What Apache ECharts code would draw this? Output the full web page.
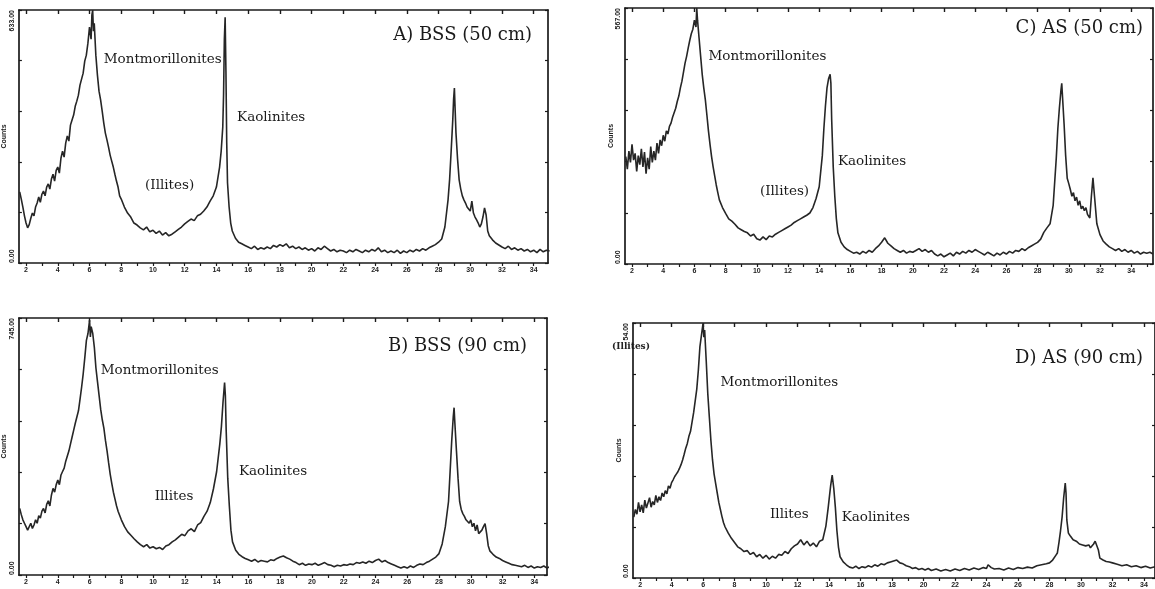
<!DOCTYPE html>
<html><head><meta charset="utf-8">
<script src="https://cdn.jsdelivr.net/npm/echarts@6/dist/echarts.min.js"></script>
<style>html,body{margin:0;padding:0;background:#fff}#c{width:1155px;height:589px}</style>
</head><body><div id="c"></div>
<script>
// ---------- data ----------
const xTickLabels = [2,4,6,8,10,12,14,16,18,20,22,24,26,28,30,32,34];
const xMinorTicks = [2,3,4,5,6,7,8,9,10,11,12,13,14,15,16,17,18,19,20,21,22,23,24,25,26,27,28,29,30,31,32,33,34,35];
const panelTitles = ['A) BSS (50 cm)', 'B) BSS (90 cm)', 'C) AS (50 cm)', 'D) AS (90 cm)'];
const yMax = [633, 745, 567, 54];

// A) BSS 50 cm  [2theta, counts]
const bss50 = [[1.6,178],[1.7,160],[1.8,140],[1.9,118],[2.0,100],[2.1,88],[2.2,96],[2.3,112],[2.4,125],[2.5,118],[2.6,140],[2.7,150],[2.8,165],[2.9,152],[3.0,172],[3.1,180],[3.2,168],[3.3,190],[3.4,198],[3.5,185],[3.6,210],[3.7,222],[3.8,205],[3.9,232],[4.0,240],[4.1,225],[4.2,262],[4.3,280],[4.4,265],[4.5,300],[4.6,318],[4.7,305],[4.8,345],[4.9,358],[5.0,370],[5.1,392],[5.2,405],[5.3,420],[5.4,445],[5.5,460],[5.6,475],[5.7,505],[5.8,520],[5.9,550],[6.0,590],[6.1,560],[6.15,620],[6.2,633],[6.25,580],[6.3,600],[6.4,520],[6.5,470],[6.6,430],[6.7,408],[6.8,380],[6.9,350],[7.0,325],[7.1,308],[7.2,290],[7.3,270],[7.4,255],[7.5,240],[7.6,222],[7.7,205],[7.8,190],[7.9,168],[8.0,160],[8.2,140],[8.4,125],[8.6,115],[8.8,100],[9.0,95],[9.2,88],[9.4,83],[9.6,90],[9.8,78],[10.0,82],[10.2,74],[10.4,80],[10.6,70],[10.8,76],[11.0,68],[11.2,72],[11.4,78],[11.6,84],[11.8,90],[12.0,98],[12.2,104],[12.4,110],[12.6,106],[12.8,118],[13.0,122],[13.2,130],[13.4,140],[13.6,155],[13.8,168],[14.0,190],[14.2,240],[14.3,280],[14.4,340],[14.45,420],[14.5,560],[14.55,615],[14.6,480],[14.65,300],[14.7,200],[14.8,140],[14.9,100],[15.0,80],[15.2,62],[15.4,52],[15.6,48],[15.8,44],[16.0,40],[16.2,36],[16.4,42],[16.6,34],[16.8,38],[17.0,35],[17.2,40],[17.4,36],[17.6,44],[17.8,40],[18.0,46],[18.2,42],[18.4,48],[18.6,38],[18.8,42],[19.0,36],[19.2,40],[19.4,34],[19.6,38],[19.8,32],[20.0,36],[20.2,30],[20.4,38],[20.6,34],[20.8,42],[21.0,36],[21.2,30],[21.4,34],[21.6,28],[21.8,32],[22.0,30],[22.2,26],[22.4,32],[22.6,28],[22.8,34],[23.0,30],[23.2,26],[23.4,32],[23.6,28],[23.8,34],[24.0,30],[24.2,38],[24.4,28],[24.6,32],[24.8,26],[25.0,30],[25.2,26],[25.4,32],[25.6,24],[25.8,30],[26.0,26],[26.2,32],[26.4,28],[26.6,34],[26.8,30],[27.0,36],[27.2,32],[27.4,38],[27.6,42],[27.8,46],[28.0,52],[28.2,60],[28.4,90],[28.6,158],[28.7,210],[28.8,283],[28.9,360],[28.95,410],[29.0,438],[29.05,380],[29.1,325],[29.2,260],[29.3,208],[29.4,185],[29.5,168],[29.6,158],[29.7,150],[29.8,140],[29.9,145],[30.0,130],[30.1,155],[30.2,125],[30.3,115],[30.4,108],[30.5,100],[30.6,90],[30.7,98],[30.8,115],[30.9,138],[31.0,120],[31.1,80],[31.2,68],[31.4,58],[31.6,50],[31.8,45],[32.0,40],[32.2,36],[32.4,42],[32.6,34],[32.8,38],[33.0,32],[33.2,36],[33.4,30],[33.6,34],[33.8,28],[34.0,32],[34.2,26],[34.4,34],[34.6,28],[34.8,32],[35.0,30]];

// B) BSS 90 cm
const bss90 = [[1.6,193],[1.7,175],[1.8,160],[1.9,150],[2.0,140],[2.1,130],[2.2,126],[2.3,150],[2.4,135],[2.5,145],[2.6,160],[2.7,150],[2.8,172],[2.9,165],[3.0,185],[3.1,193],[3.2,180],[3.3,205],[3.4,215],[3.5,200],[3.6,232],[3.7,251],[3.8,240],[3.9,262],[4.0,275],[4.1,262],[4.2,290],[4.3,300],[4.4,310],[4.5,330],[4.6,345],[4.7,360],[4.8,380],[4.9,400],[5.0,420],[5.1,440],[5.2,458],[5.3,476],[5.4,510],[5.5,545],[5.6,584],[5.7,630],[5.8,680],[5.9,700],[6.0,739],[6.05,690],[6.1,720],[6.2,700],[6.3,660],[6.4,600],[6.5,560],[6.6,520],[6.7,480],[6.8,450],[6.9,426],[7.0,390],[7.1,360],[7.2,325],[7.3,292],[7.4,265],[7.5,240],[7.6,220],[7.7,200],[7.8,184],[8.0,160],[8.2,140],[8.4,125],[8.6,115],[8.8,105],[9.0,96],[9.2,88],[9.4,82],[9.6,88],[9.8,78],[10.0,82],[10.2,76],[10.4,80],[10.6,74],[10.8,84],[11.0,88],[11.2,96],[11.4,102],[11.6,110],[11.8,118],[12.0,114],[12.2,128],[12.4,134],[12.6,126],[12.8,145],[13.0,152],[13.2,170],[13.4,185],[13.6,210],[13.8,250],[14.0,300],[14.2,380],[14.3,430],[14.4,500],[14.5,558],[14.55,520],[14.6,420],[14.7,280],[14.8,200],[14.9,130],[15.0,96],[15.2,72],[15.4,60],[15.6,53],[15.8,48],[16.0,44],[16.2,40],[16.4,45],[16.6,38],[16.8,42],[17.0,40],[17.2,38],[17.4,44],[17.6,42],[17.8,48],[18.0,52],[18.2,55],[18.4,50],[18.6,46],[18.8,40],[19.0,36],[19.2,30],[19.4,34],[19.6,28],[19.8,32],[20.0,30],[20.2,34],[20.4,28],[20.6,32],[20.8,36],[21.0,30],[21.2,28],[21.4,24],[21.6,28],[21.8,26],[22.0,30],[22.2,28],[22.4,32],[22.6,30],[22.8,36],[23.0,34],[23.2,38],[23.4,34],[23.6,40],[23.8,36],[24.0,42],[24.2,46],[24.4,38],[24.6,42],[24.8,36],[25.0,32],[25.2,28],[25.4,24],[25.6,20],[25.8,24],[26.0,20],[26.2,26],[26.4,22],[26.6,28],[26.8,32],[27.0,30],[27.2,36],[27.4,40],[27.6,46],[27.8,52],[28.0,62],[28.2,90],[28.4,140],[28.6,213],[28.7,300],[28.8,388],[28.9,460],[28.95,485],[29.0,440],[29.1,359],[29.2,280],[29.3,213],[29.4,190],[29.5,178],[29.6,170],[29.7,160],[29.8,164],[29.9,150],[30.0,160],[30.1,140],[30.2,150],[30.3,128],[30.4,145],[30.5,120],[30.6,117],[30.7,130],[30.8,140],[30.9,149],[31.0,120],[31.1,85],[31.2,70],[31.4,60],[31.6,52],[31.8,48],[32.0,42],[32.2,38],[32.4,34],[32.6,30],[32.8,28],[33.0,26],[33.2,24],[33.4,28],[33.6,22],[33.8,26],[34.0,20],[34.2,24],[34.4,22],[34.6,26],[34.8,20],[35.0,24]];

// C) AS 50 cm
const as50 = [[1.6,238],[1.7,210],[1.8,250],[1.9,225],[2.0,265],[2.1,230],[2.2,245],[2.3,205],[2.4,240],[2.5,220],[2.6,255],[2.7,215],[2.8,248],[2.9,200],[3.0,235],[3.1,210],[3.2,260],[3.3,225],[3.4,250],[3.5,230],[3.6,268],[3.7,245],[3.8,275],[3.9,262],[4.0,285],[4.1,272],[4.2,295],[4.3,288],[4.4,305],[4.5,312],[4.6,325],[4.7,335],[4.8,345],[4.9,360],[5.0,372],[5.1,390],[5.2,405],[5.3,425],[5.4,445],[5.5,460],[5.6,478],[5.7,495],[5.8,510],[5.9,520],[6.0,540],[6.1,525],[6.15,567],[6.2,540],[6.3,500],[6.4,460],[6.5,420],[6.6,390],[6.7,364],[6.8,330],[6.9,295],[7.0,265],[7.1,238],[7.2,215],[7.3,195],[7.4,175],[7.5,158],[7.6,142],[7.8,125],[8.0,112],[8.2,100],[8.4,95],[8.6,88],[8.8,80],[9.0,76],[9.2,72],[9.4,69],[9.6,62],[9.8,66],[10.0,56],[10.2,53],[10.4,60],[10.6,54],[10.8,62],[11.0,60],[11.2,66],[11.4,70],[11.6,74],[11.8,78],[12.0,82],[12.2,86],[12.4,92],[12.6,96],[12.8,100],[13.0,104],[13.2,108],[13.4,113],[13.6,125],[13.8,145],[14.0,171],[14.2,240],[14.3,300],[14.4,350],[14.5,390],[14.6,410],[14.7,420],[14.75,400],[14.8,320],[14.9,215],[15.0,150],[15.1,100],[15.2,69],[15.4,48],[15.6,38],[15.8,32],[16.0,28],[16.2,24],[16.4,26],[16.6,22],[16.8,28],[17.0,24],[17.2,30],[17.4,26],[17.6,34],[17.8,40],[18.0,48],[18.2,58],[18.4,46],[18.6,40],[18.8,34],[19.0,30],[19.2,26],[19.4,30],[19.6,24],[19.8,28],[20.0,26],[20.2,30],[20.4,34],[20.6,28],[20.8,32],[21.0,26],[21.2,30],[21.4,22],[21.6,18],[21.8,22],[22.0,16],[22.2,20],[22.4,24],[22.6,18],[22.8,26],[23.0,22],[23.2,28],[23.4,24],[23.6,30],[23.8,26],[24.0,32],[24.2,28],[24.4,24],[24.6,20],[24.8,26],[25.0,22],[25.2,18],[25.4,24],[25.6,20],[25.8,26],[26.0,22],[26.2,28],[26.4,24],[26.6,30],[26.8,28],[27.0,34],[27.2,30],[27.4,36],[27.6,40],[27.8,44],[28.0,48],[28.2,55],[28.4,70],[28.6,80],[28.8,89],[29.0,130],[29.2,235],[29.3,300],[29.4,346],[29.5,385],[29.55,400],[29.6,370],[29.7,310],[29.8,240],[29.9,190],[30.0,178],[30.1,165],[30.2,150],[30.3,158],[30.4,140],[30.5,148],[30.6,130],[30.7,140],[30.8,122],[30.9,128],[31.0,118],[31.1,125],[31.2,110],[31.3,106],[31.35,102],[31.45,150],[31.55,191],[31.65,150],[31.8,89],[32.0,65],[32.2,51],[32.4,44],[32.6,38],[32.8,34],[33.0,30],[33.2,34],[33.4,28],[33.6,32],[33.8,26],[34.0,30],[34.2,24],[34.4,28],[34.6,22],[34.8,26],[35.0,24],[35.2,26],[35.4,22]];

// D) AS 90 cm
const as90 = [[1.6,12.9],[1.7,14.5],[1.8,13.5],[1.9,16],[2.0,14],[2.1,15.5],[2.2,13.8],[2.3,16.5],[2.4,14.8],[2.5,15.2],[2.6,17],[2.7,15],[2.8,16.2],[2.9,15.5],[3.0,17.5],[3.1,16],[3.2,17.2],[3.3,16.4],[3.4,18],[3.5,17.2],[3.6,18.5],[3.7,17.8],[3.8,19.5],[3.9,19],[4.0,20.2],[4.1,20.8],[4.2,21.5],[4.3,22],[4.4,22.5],[4.5,23.2],[4.6,24],[4.7,25],[4.8,26.2],[4.9,27.5],[5.0,28.5],[5.1,30],[5.2,31],[5.3,33],[5.4,35],[5.5,37.5],[5.6,40],[5.7,44],[5.8,49],[5.9,51.5],[6.0,54],[6.05,51],[6.1,52.5],[6.2,46],[6.3,39],[6.4,34],[6.5,29],[6.6,25],[6.7,22],[6.8,20],[6.9,18],[7.0,16],[7.1,14.5],[7.2,13],[7.3,11.7],[7.4,10.8],[7.6,9.5],[7.8,8.4],[8.0,7.5],[8.2,6.6],[8.4,6.2],[8.6,5.6],[8.8,5.8],[9.0,5.0],[9.2,5.4],[9.4,4.5],[9.6,5.0],[9.8,4.2],[10.0,4.8],[10.2,4.0],[10.4,4.6],[10.6,4.2],[10.8,5.0],[11.0,4.8],[11.2,5.6],[11.4,5.2],[11.6,6.2],[11.8,6.8],[12.0,7.2],[12.2,8.1],[12.4,7.0],[12.6,7.8],[12.8,6.8],[13.0,7.4],[13.2,6.6],[13.4,7.8],[13.6,8.1],[13.8,11],[13.95,15],[14.1,19.5],[14.2,21.8],[14.3,19],[14.4,15],[14.5,10],[14.6,6.5],[14.7,4.5],[14.9,3.4],[15.1,2.8],[15.3,2.3],[15.5,2.1],[15.7,2.5],[15.9,2.0],[16.1,2.4],[16.3,2.2],[16.5,2.6],[16.7,2.3],[16.9,2.8],[17.1,2.5],[17.3,3.0],[17.5,2.8],[17.7,3.2],[17.9,3.4],[18.1,3.6],[18.3,3.8],[18.5,3.2],[18.7,3.0],[18.9,2.6],[19.1,2.4],[19.3,2.0],[19.5,2.2],[19.7,1.8],[19.9,2.0],[20.1,1.7],[20.3,2.0],[20.5,1.6],[20.8,1.9],[21.1,1.5],[21.4,1.8],[21.7,1.5],[22.0,1.9],[22.3,1.6],[22.6,2.0],[22.9,1.7],[23.2,2.1],[23.5,1.8],[23.8,2.2],[24.0,2.0],[24.1,2.8],[24.2,3.0],[24.3,2.2],[24.5,1.9],[24.8,2.0],[25.1,1.7],[25.4,2.1],[25.7,1.8],[26.0,2.2],[26.3,2.0],[26.6,2.3],[26.9,2.1],[27.2,2.6],[27.5,2.8],[27.8,3.0],[28.0,3.2],[28.2,3.8],[28.4,4.8],[28.5,5.3],[28.6,7.5],[28.7,10],[28.8,12.9],[28.9,17],[29.0,20.1],[29.05,18],[29.1,12.3],[29.2,9.5],[29.3,9.0],[29.4,8.6],[29.5,8.1],[29.6,8.4],[29.7,7.8],[29.8,8.0],[29.9,7.2],[30.0,7.6],[30.1,7.0],[30.2,7.3],[30.3,6.8],[30.4,6.6],[30.5,7.0],[30.6,6.4],[30.7,6.8],[30.8,7.2],[30.9,7.8],[31.0,8.1],[31.1,6.0],[31.2,4.2],[31.4,3.8],[31.6,3.5],[31.8,3.4],[32.0,3.2],[32.3,2.9],[32.6,2.6],[32.9,2.8],[33.2,2.4],[33.5,2.6],[33.8,2.2],[34.1,2.5],[34.4,2.1],[34.7,2.4],[35.0,2.3]];

// annotations: [text, 2theta, counts]
const annotA = [['Montmorillonites', 6.9, 508], ['Kaolinites', 15.3, 365], ['(Illites)', 9.5, 195]];
const annotB = [['Montmorillonites', 6.7, 593], ['Kaolinites', 15.4, 301], ['Illites', 10.1, 228]];
const annotC = [['Montmorillonites', 6.9, 460], ['Kaolinites', 15.2, 226], ['(Illites)', 10.2, 160]];
const annotD = [['Montmorillonites', 7.1, 41.5], ['Illites', 10.25, 13.4], ['Kaolinites', 14.8, 12.9]];

// ---------- layout / style ----------
const layouts = [
  {left:15,  top:10,  width:533, height:253, xmin:1.55, xmax:34.9, titleRight:618, titleTop:21},
  {left:15,  top:318, width:532, height:257, xmin:1.55, xmax:34.8, titleRight:623, titleTop:332},
  {left:625, top:8,   width:528, height:256, xmin:1.55, xmax:35.4, titleRight:7,   titleTop:14},
  {left:633, top:323, width:522, height:255, xmin:1.55, xmax:34.7, titleRight:7,   titleTop:344}
];
const datasets = [bss50, bss90, as50, as90];
const annots = [annotA, annotB, annotC, annotD];
const INK = '#1a1a1a';
const axisLine = {show:true, onZero:false, lineStyle:{color:INK, width:1.7}};
const tickFont = {fontSize:7, fontWeight:'bold', color:'#222', fontFamily:'Liberation Sans'};
const serif = 'DejaVu Serif';

const grid = [], xAxis = [], yAxis = [], series = [], title = [];
layouts.forEach((L, i) => {
  grid.push({left:L.left, top:L.top, width:L.width, height:L.height});
  xAxis.push({gridIndex:i, type:'value', position:'bottom', min:L.xmin, max:L.xmax,
    axisLine, splitLine:{show:false},
    axisTick:{show:true, customValues:xMinorTicks, length:3, lineStyle:{color:INK, width:1.2}},
    axisLabel:Object.assign({customValues:xTickLabels, margin:4}, tickFont)});
  xAxis.push({gridIndex:i, type:'value', position:'top', min:L.xmin, max:L.xmax,
    axisLine, splitLine:{show:false},
    axisTick:{show:true, inside:true, customValues:xTickLabels, length:4, lineStyle:{color:INK, width:1.4}},
    axisLabel:{show:false}});
  yAxis.push({gridIndex:i, type:'value', position:'left', min:0, max:yMax[i], interval:yMax[i]/5,
    axisLine, splitLine:{show:false},
    axisTick:{show:true, inside:true, length:3, lineStyle:{color:INK, width:1.2}},
    axisLabel:Object.assign({customValues:[0, yMax[i]], rotate:90, margin:3,
      alignMinLabel:'left', alignMaxLabel:'right',
      formatter: v => v.toFixed(2)}, tickFont),
    name:'Counts', nameLocation:'middle', nameRotate:90, nameGap:5,
    nameTextStyle:{fontSize:7, fontWeight:'bold', color:'#222', fontFamily:'Liberation Sans'}});
  yAxis.push({gridIndex:i, type:'value', position:'right', min:0, max:yMax[i], interval:yMax[i]/5,
    axisLine, splitLine:{show:false},
    axisTick:{show:true, inside:true, length:3, lineStyle:{color:INK, width:1.2}},
    axisLabel:{show:false}});
  series.push({type:'line', xAxisIndex:2*i, yAxisIndex:2*i, data:datasets[i],
    symbol:'none', showSymbol:false, animation:false, silent:true,
    lineStyle:{color:'#262626', width:1.6},
    markPoint:{symbol:'circle', symbolSize:0, animation:false,
      label:{show:true, position:'right', distance:0, formatter:p => p.name,
        fontFamily:serif, fontSize:13.5, color:'#1a1a1a'},
      data:annots[i].map(a => ({name:a[0], coord:[a[1], a[2]]}))}});
  title.push({text:panelTitles[i], right:L.titleRight, top:L.titleTop,
    textStyle:{fontFamily:serif, fontSize:18, fontWeight:'normal', color:'#1a1a1a'}});
});

const chart = echarts.init(document.getElementById('c'), null, {renderer:'canvas'});
chart.setOption({
  backgroundColor:'#fff', animation:false,
  title, grid, xAxis, yAxis, series,
  graphic:[{type:'text', left:612, top:342,
    style:{text:'(Illites)', font:'bold 9px "DejaVu Serif"', fill:'#222'}}]
});
</script></body></html>
